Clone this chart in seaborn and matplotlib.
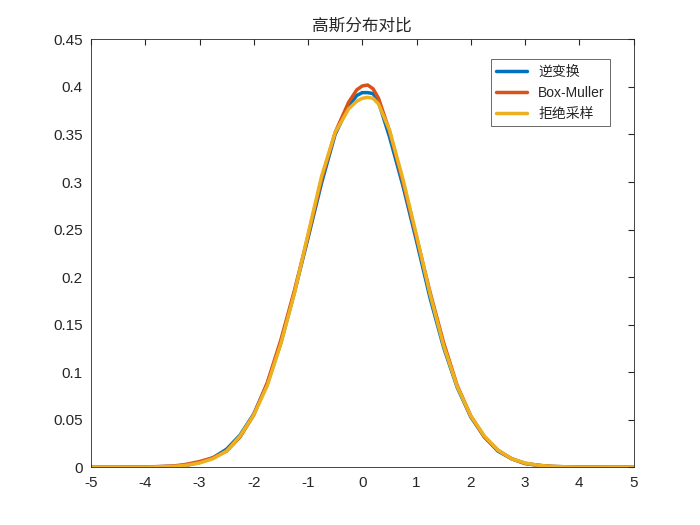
import numpy as np
import pandas as pd
import matplotlib
matplotlib.use("Agg")
import matplotlib.pyplot as plt
import seaborn as sns

# x grid
x = [-5, -4.5, -4, -3.5, -3.25, -3, -2.75, -2.5, -2.25, -2, -1.75, -1.5, -1.25, -1, -0.75, -0.5,
     -0.25, -0.1, 0, 0.1, 0.2, 0.3, 0.5, 0.75, 1, 1.25, 1.5, 1.75, 2, 2.25, 2.5, 2.75, 3, 3.25, 3.5, 4, 4.5, 5]

inverse = [0, 0, 0.0002, 0.001, 0.002, 0.005, 0.010, 0.019, 0.034, 0.056, 0.088, 0.131, 0.184, 0.241,
           0.299, 0.350, 0.380, 0.391, 0.394, 0.394, 0.393, 0.384, 0.348, 0.296, 0.238, 0.178, 0.126,
           0.084, 0.053, 0.032, 0.017, 0.009, 0.004, 0.002, 0.0008, 0.0001, 0, 0]
box_muller = [0, 0, 0.0003, 0.0012, 0.003, 0.006, 0.010, 0.017, 0.032, 0.055, 0.089, 0.134, 0.186, 0.243,
              0.303, 0.352, 0.384, 0.397, 0.401, 0.402, 0.398, 0.388, 0.354, 0.300, 0.242, 0.184, 0.131,
              0.086, 0.054, 0.032, 0.018, 0.009, 0.004, 0.002, 0.0009, 0.0001, 0, 0]
rejection = [0, 0, 0.0001, 0.0008, 0.002, 0.0045, 0.009, 0.017, 0.033, 0.055, 0.086, 0.130, 0.183, 0.245,
             0.306, 0.352, 0.377, 0.385, 0.388, 0.389, 0.388, 0.382, 0.355, 0.303, 0.244, 0.182, 0.128,
             0.085, 0.054, 0.033, 0.018, 0.009, 0.0045, 0.002, 0.0008, 0.0001, 0, 0]

labels = ["逆变换", "Box-Muller", "拒绝采样"]
colors = ["#0072BD", "#D95319", "#EDB120"]

df = pd.DataFrame({"x": x * 3,
                   "y": inverse + box_muller + rejection,
                   "method": [labels[0]] * len(x) + [labels[1]] * len(x) + [labels[2]] * len(x)})

sns.set_style("white")
plt.rcParams['font.family'] = ['Liberation Sans', 'Noto Sans CJK SC', 'DejaVu Sans']
plt.rcParams['axes.unicode_minus'] = False

fig = plt.figure(figsize=(7, 5.25), dpi=100)
ax = fig.add_axes([0.13, 0.11, 0.775, 0.815])
sns.lineplot(data=df, x="x", y="y", hue="method", palette=colors, linewidth=2.5, ax=ax)

ax.set_xlim(-5, 5)
ax.set_ylim(0, 0.45)
ax.set_xticks(np.arange(-5, 6, 1))
ax.set_yticks(np.arange(0, 0.46, 0.05))
ax.set_yticklabels(["0"] + [f"{v:g}" for v in np.arange(0.05, 0.46, 0.05)])
ax.set_xlabel("")
ax.set_ylabel("")
ax.tick_params(direction="in", top=True, right=True, length=4, labelsize=11, color="#262626", pad=6)
for s in ax.spines.values():
    s.set_color("#262626")
    s.set_linewidth(0.6)
ax.set_title("高斯分布对比", fontsize=12, family=['Noto Sans CJK SC', 'DejaVu Sans'])
leg = ax.legend(loc="upper right", bbox_to_anchor=(0.97, 0.97), frameon=True,
                fancybox=False, edgecolor="#262626", handlelength=2.2,
                prop={'family': ['Liberation Sans', 'Noto Sans CJK SC'], 'size': 10})
leg.get_frame().set_linewidth(0.6)
fig.savefig("out.png")
